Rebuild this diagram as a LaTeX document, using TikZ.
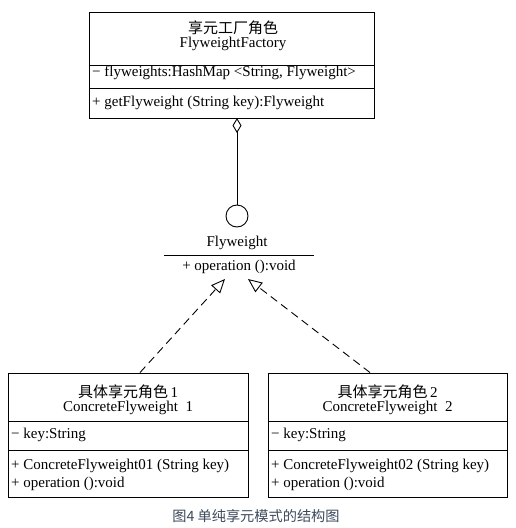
\documentclass[tikz,border=0pt]{standalone}
\usepackage{fontspec}
\setmainfont{Liberation Serif}
\newfontfamily\cjk{Noto Sans CJK SC}
\usetikzlibrary{arrows.meta}
\definecolor{capcol}{HTML}{3D4A5C}
\begin{document}
\begin{tikzpicture}[x=1pt,y=-1pt,
  box/.style={draw,line width=0.9pt,rectangle,inner sep=0pt},
  txt/.style={inner sep=0pt,font=\fontsize{15}{17}\selectfont},
  ctxt/.style={inner sep=0pt,font=\fontsize{15}{17}\selectfont\cjk},
  ltxt/.style={txt,anchor=west},
  rule/.style={line width=0.9pt},
  agg/.style={line width=0.9pt,{Diamond[open,length=15pt,width=9pt]}-},
  real/.style={line width=0.9pt,dash pattern=on 8pt off 5pt,-{Triangle[open,length=14pt,width=12pt]}}]
\useasboundingbox (0,0) rectangle (516,528);
\fill[white] (0,0) rectangle (516,528);
% Factory box
\node[box,minimum width=285pt,minimum height=106pt] (fac) at (231.5,65) {};
\node[ctxt] (facz) at (233,28) {享元工厂角色};
\node[txt] (facn) at (233,44) {FlyweightFactory};
\draw[rule] (89,65) -- (374,65);
\node[ltxt] (facf) at (92,73) {− flyweights:HashMap <String, Flyweight>};
\draw[rule] (89,88) -- (374,88);
\node[ltxt] (facm) at (92,103) {+ getFlyweight (String key):Flyweight};
% interface
\coordinate (dtop) at (237,118);
\node[draw,line width=0.9pt,circle,minimum size=22pt,inner sep=0pt] (circ) at (237,216) {};
\draw[agg] (dtop) -- (circ.north);
\node[txt] (fw) at (237,243) {Flyweight};
\draw[rule] (164,255) -- (314,255);
\node[txt] (fwop) at (239,267) {+ operation ():void};
\coordinate (tipl) at (225,279);
\coordinate (tipr) at (248,279);
% Concrete 1
\node[box,minimum width=240pt,minimum height=124pt] (c1) at (128,435) {};
\node[ctxt] (c1z) at (128,392) {具体享元角色\,{\rmfamily 1}};
\node[txt] (c1n) at (128,408) {ConcreteFlyweight\ \ 1};
\draw[rule] (8,421) -- (248,421);
\node[ltxt] (c1f) at (11,435) {− key:String};
\draw[rule] (8,450) -- (248,450);
\node[ltxt] (c1m) at (11,466) {+ ConcreteFlyweight01 (String key)};
\node[ltxt] (c1o) at (11,484) {+ operation ():void};
% Concrete 2
\node[box,minimum width=239pt,minimum height=124pt] (c2) at (387.5,435) {};
\node[ctxt] (c2z) at (387.5,392) {具体享元角色\,{\rmfamily 2}};
\node[txt] (c2n) at (387.5,408) {ConcreteFlyweight\ \ 2};
\draw[rule] (268,421) -- (507,421);
\node[ltxt] (c2f) at (271,435) {− key:String};
\draw[rule] (268,450) -- (507,450);
\node[ltxt] (c2m) at (271,466) {+ ConcreteFlyweight02 (String key)};
\node[ltxt] (c2o) at (271,484) {+ operation ():void};
% realizations
\draw[real] (c1.north -| 140,0) -- (tipl);
\draw[real] (c2.north -| 370,0) -- (tipr);
% caption
\node[inner sep=0pt,font=\fontsize{14.2}{16}\selectfont\cjk,text=capcol] (cap) at (256,516) {图4 单纯享元模式的结构图};
\end{tikzpicture}
\end{document}
